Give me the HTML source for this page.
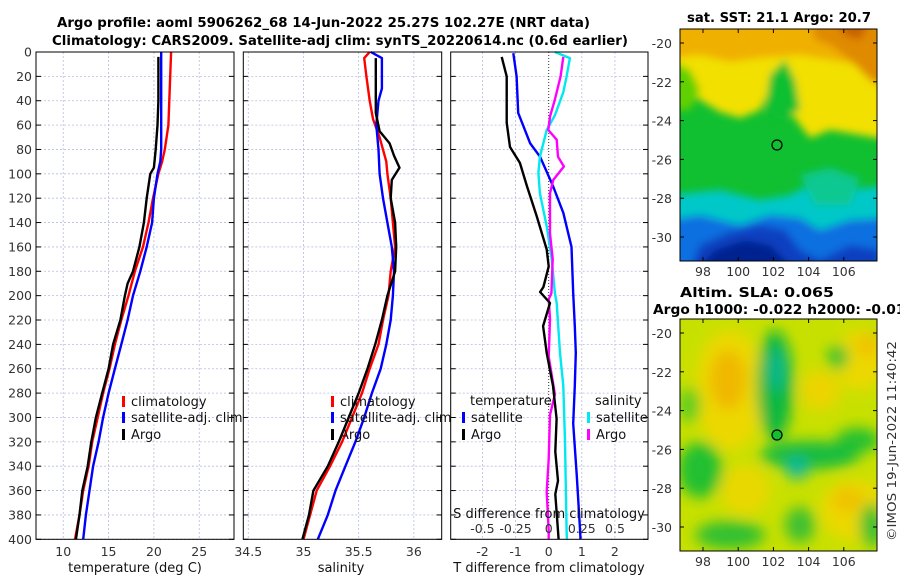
<!DOCTYPE html>
<html><head><meta charset="utf-8">
<style>
html,body{margin:0;padding:0;background:#fff;}
svg{display:block;font-family:"DejaVu Sans","Liberation Sans",sans-serif;}
.tk{font-size:12.5px;fill:#333;}
.tt{font-size:13px;font-weight:bold;fill:#000;}
.lg{font-size:13px;fill:#111;}
</style></head>
<body>
<svg id="fig" width="900" height="580" viewBox="0 0 900 580" xmlns="http://www.w3.org/2000/svg">
<defs>
<filter id="blur3" x="-5%" y="-5%" width="110%" height="110%"><feGaussianBlur stdDeviation="4"/></filter>
<filter id="blur6" x="-5%" y="-5%" width="110%" height="110%"><feGaussianBlur stdDeviation="7"/></filter>
<clipPath id="clipSST"><rect x="680" y="29" width="197" height="232"/></clipPath>
<clipPath id="clipSLA"><rect x="680" y="319" width="197" height="232"/></clipPath>
</defs>
<text class="tt" x="57" y="27" textLength="533" lengthAdjust="spacingAndGlyphs">Argo profile: aoml 5906262_68 14-Jun-2022 25.27S 102.27E (NRT data)</text>
<text class="tt" x="52" y="45" textLength="576" lengthAdjust="spacingAndGlyphs">Climatology: CARS2009. Satellite-adj clim: synTS_20220614.nc (0.6d earlier)</text>

<!-- SST map -->
<g clip-path="url(#clipSST)">
<rect x="680" y="29" width="197" height="232" fill="#10c030"/>
<g filter="url(#blur3)">
<path d="M670 20 L890 20 L890 140 L860 135 L830 130 L810 138 L790 112 L780 100 L775 70 L770 90 L760 110 L740 118 L720 112 L700 100 L690 90 L670 80 Z" fill="#f2e000"/>
<path d="M670 20 L890 20 L890 55 L860 65 L830 60 L800 55 L760 58 L730 62 L700 55 L670 58 Z" fill="#f0b000"/>
<path d="M810 20 L890 20 L890 90 L870 80 L850 60 L830 45 L815 40 Z" fill="#e08a00"/>
<path d="M835 20 L870 20 L860 40 L845 35 Z" fill="#c86000"/>
<path d="M670 60 L690 70 L700 90 L690 110 L670 110 Z" fill="#60d000"/>
<path d="M770 75 L785 60 L795 80 L800 110 L780 120 L765 110 Z" fill="#10c030"/>
<path d="M670 195 L720 190 L760 200 L790 195 L810 185 L850 190 L890 185 L890 270 L670 270 Z" fill="#00c8c8"/>
<path d="M670 220 L700 215 L740 225 L770 215 L800 218 L820 230 L850 220 L890 218 L890 270 L670 270 Z" fill="#0a70e0"/>
<path d="M690 270 L700 245 L730 232 L760 225 L785 230 L800 250 L820 260 L850 245 L880 250 L880 270 Z" fill="#0a40c0"/>
<path d="M695 270 L715 250 L745 240 L770 245 L790 265 L790 270 Z" fill="#062090"/>
<path d="M800 175 L830 168 L860 178 L850 205 L815 205 Z" fill="#10c890"/>
</g>
</g>
<rect x="680" y="29" width="197" height="232" fill="none" stroke="#000" stroke-width="1"/>
<circle cx="777" cy="145" r="5" fill="none" stroke="#000" stroke-width="1.2"/>
<text class="tt" x="687" y="22" textLength="184" lengthAdjust="spacingAndGlyphs">sat. SST: 21.1 Argo: 20.7</text>

<!-- SLA map -->
<g clip-path="url(#clipSLA)">
<rect x="680" y="319" width="197" height="232" fill="#c8e000"/>
<g filter="url(#blur6)">
<ellipse cx="730" cy="390" rx="35" ry="60" fill="#ecd800"/>
<ellipse cx="728" cy="380" rx="18" ry="30" fill="#f0b800"/>
<ellipse cx="855" cy="510" rx="35" ry="30" fill="#ecd800"/>
<ellipse cx="848" cy="500" rx="15" ry="12" fill="#f0c000"/>
<ellipse cx="860" cy="360" rx="25" ry="30" fill="#ecd800"/>
<ellipse cx="868" cy="345" rx="10" ry="12" fill="#f0c000"/>
<ellipse cx="745" cy="490" rx="25" ry="25" fill="#e8d800"/>
<ellipse cx="820" cy="390" rx="20" ry="20" fill="#ecd400"/>
<ellipse cx="700" cy="470" rx="22" ry="28" fill="#20c030"/>
<ellipse cx="690" cy="405" rx="10" ry="18" fill="#50cc20"/>
<ellipse cx="775" cy="385" rx="18" ry="55" fill="#10b840"/>
<ellipse cx="777" cy="370" rx="8" ry="22" fill="#10b890"/>
<ellipse cx="810" cy="455" rx="50" ry="14" fill="#18bc40"/>
<ellipse cx="797" cy="468" rx="11" ry="11" fill="#10b8a0"/>
<ellipse cx="858" cy="440" rx="22" ry="12" fill="#20c030"/>
<ellipse cx="838" cy="357" rx="10" ry="12" fill="#20c030"/>
<ellipse cx="730" cy="535" rx="35" ry="14" fill="#30c030"/>
<ellipse cx="872" cy="525" rx="12" ry="22" fill="#30c030"/>
<ellipse cx="800" cy="525" rx="15" ry="18" fill="#40c030"/>
</g>
</g>
<rect x="680" y="319" width="197" height="232" fill="none" stroke="#000" stroke-width="1"/>
<circle cx="777" cy="435" r="5" fill="#10c030" stroke="#000" stroke-width="1.2"/>
<text class="tt" x="680" y="297" textLength="154" lengthAdjust="spacingAndGlyphs">Altim. SLA: 0.065</text>
<text class="tt" x="653" y="314" textLength="262" lengthAdjust="spacingAndGlyphs">Argo h1000: -0.022 h2000: -0.018</text>
<text class="tk" transform="translate(896,541) rotate(-90)" textLength="200" lengthAdjust="spacingAndGlyphs">©IMOS 19-Jun-2022 11:40:42</text>

<g id="plots"></g>
</svg>
<script>
// ---- data: temperature profiles (deg C) ----
const tClimDepth = [0,20,40,60,80,90,100,120,140,160,180,200,220,240,260,280,300,320,340,360,380,400];
const tClimVal   = [21.9,21.8,21.7,21.6,21.2,20.9,20.5,19.9,19.4,18.8,17.9,17.2,16.4,15.7,15.1,14.4,13.8,13.2,12.8,12.2,11.8,11.3];
const tSatDepth  = [0,20,40,60,80,90,100,120,140,160,180,200,220,240,260,280,300,320,340,360,380,400];
const tSatVal    = [20.8,20.8,20.8,20.8,20.8,20.7,20.4,20.0,19.8,19.2,18.5,17.7,17.1,16.4,15.7,15.0,14.4,13.9,13.3,12.9,12.5,12.2];
const tArgoDepth = [4,40,60,70,80,95,100,120,140,160,180,190,200,220,240,260,280,300,320,340,360,380,400];
const tArgoVal   = [20.5,20.5,20.4,20.3,20.2,20.0,19.6,19.2,18.9,18.4,17.7,17.1,16.8,16.3,15.5,15.0,14.3,13.6,13.1,12.7,12.1,11.8,11.4];
// ---- salinity profiles ----
const sClimDepth = [0,5,20,40,55,70,90,100,120,140,160,180,200,220,240,260,280,300,320,340,360,380,400];
const sClimVal   = [35.60,35.55,35.57,35.60,35.63,35.69,35.75,35.76,35.79,35.81,35.83,35.79,35.77,35.72,35.68,35.60,35.53,35.44,35.35,35.24,35.12,35.06,35.00];
const sSatDepth  = [0,5,30,40,60,80,100,120,140,160,180,200,220,240,260,280,300,320,340,360,380,400];
const sSatVal    = [35.61,35.71,35.71,35.68,35.66,35.68,35.69,35.72,35.76,35.80,35.82,35.81,35.79,35.75,35.70,35.62,35.55,35.47,35.38,35.29,35.22,35.13];
const sArgoDepth = [5,50,65,75,85,95,105,120,140,160,180,200,220,240,260,280,300,320,340,360,380,400];
const sArgoVal   = [35.655,35.655,35.69,35.78,35.82,35.87,35.80,35.79,35.83,35.84,35.83,35.76,35.71,35.65,35.58,35.50,35.41,35.32,35.22,35.09,35.05,34.99];
// ---- differences from climatology ----
const dTArgoDepth = [4,20,58,78,91,110,135,162,176,193,197,206,225,247,274,301,328,352,363,393,400];
const dTArgoVal   = [-1.42,-1.27,-1.27,-1.17,-0.87,-0.66,-0.36,-0.06,0.0,-0.16,-0.26,0.04,-0.17,-0.06,0.13,0.24,0.2,0.28,0.2,0.28,0.3];
const dTSatDepth  = [1,20,50,75,86,110,132,160,198,225,247,274,305,348,393,400];
const dTSatVal    = [-1.07,-0.97,-0.92,-0.56,-0.26,0.13,0.44,0.69,0.74,0.79,0.82,0.79,0.74,0.85,0.95,0.96];
const dSSatDepth  = [0,5,20,33,52,64,86,99,116,143,170,198,206,247,274,320,393,400];
const dSSatVal    = [0.047,0.16,0.135,0.11,0.047,-0.015,-0.066,-0.078,-0.066,-0.015,0.023,0.047,0.06,0.085,0.11,0.123,0.135,0.137];
const dSArgoDepth = [4,20,39,53,64,72,86,94,105,116,149,170,198,203,219,250,281,298,334,361,393,400];
const dSArgoVal   = [0.11,0.09,0.047,0.01,-0.003,0.06,0.07,0.115,0.035,0.01,0.01,0.03,0.02,0.0,0.01,0.0,0.047,0.01,0.0,-0.015,0.0,0.0];
// ---- tick labels ----
const depthTicks = [0,20,40,60,80,100,120,140,160,180,200,220,240,260,280,300,320,340,360,380,400];
const tempTicks = [10,15,20,25];
const salTicks = [34.5,35,35.5,36];
const dTTicks = [-2,-1,0,1,2];
const dSTicks = [-0.5,-0.25,0,0.25,0.5];
const latTicks = [-20,-22,-24,-26,-28,-30];
const lonTicks = [98,100,102,104,106];

// axis functions
const Y0=52, Y1=539.3;
const yD = d => Y0 + d*(Y1-Y0)/400;
const xT = t => 36 + (t-7)*9.07;
const xS = s => 243.3 + (s-34.455)*110.4;
const xDT = v => 548.7 + v*33.1;
const xDS = v => 548.7 + v*132.6;
const yLatA = l => 43 + (-20-l)*19.4;
const yLatB = l => 333 + (-20-l)*19.4;
const xLon = l => 703 + (l-98)*17.6;

const NS='http://www.w3.org/2000/svg';
const root=document.getElementById('plots');
function mk(tag, attrs, parent){
  const e=document.createElementNS(NS,tag);
  for(const k in attrs) e.setAttribute(k,attrs[k]);
  (parent||root).appendChild(e); return e;
}
function txt(s, x, y, anchor, cls){
  const e=mk('text',{x:x,y:y,'text-anchor':anchor||'middle','class':cls||'tk'});
  e.textContent=s; return e;
}

const panels=[{x0:36,x1:234,name:'temperature'},{x0:243.3,x1:441.7,name:'salinity'},{x0:450.7,x1:648,name:'difference'}];
panels.forEach(p=>{
  const g=mk('g',{});
  
  
  depthTicks.forEach(d=>{
    const l=mk('line',{x1:p.x0,x2:p.x1,y1:yD(d),y2:yD(d),stroke:'#b8bce0','stroke-width':0.8,'stroke-dasharray':'2,2'},g);
    
    
    mk('line',{x1:p.x0,x2:p.x0+5,y1:yD(d),y2:yD(d),stroke:'#000','stroke-width':1},g);
    mk('line',{x1:p.x1-5,x2:p.x1,y1:yD(d),y2:yD(d),stroke:'#000','stroke-width':1},g);
  });
  p.g=g;
});
function vgrid(g,x,dotted){
  const l=mk('line',{x1:x,x2:x,y1:Y0,y2:Y1,stroke:dotted?'#333':'#b8bce0','stroke-width':dotted?1:0.8,'stroke-dasharray':dotted?'1,2':'2,2'},g);
  
  
}
tempTicks.forEach(t=>{vgrid(panels[0].g,xT(t)); const e=txt(String(t),xT(t),556);
   });
salTicks.forEach(s=>{vgrid(panels[1].g,xS(s)); const e=txt(String(s),xS(s),556);
   });
dTTicks.forEach(v=>{vgrid(panels[2].g,xDT(v),v===0); const e=txt(String(v),xDT(v),556);
   });
depthTicks.forEach(d=>{const e=txt(String(d),32,yD(d)+4.5,'end');
   });

function series(g, depths, vals, fx, color, name){
  const pts=depths.map((d,i)=>fx(vals[i]).toFixed(1)+','+yD(d).toFixed(1)).join(' ');
  const pl=mk('polyline',{points:pts,fill:'none',stroke:color,'stroke-width':2.4,'stroke-linejoin':'round'},g);
  
  
}
series(panels[0].g,tClimDepth,tClimVal,xT,'#ff0000','temp-climatology-line');
series(panels[0].g,tSatDepth,tSatVal,xT,'#0000ff','temp-satellite-line');
series(panels[0].g,tArgoDepth,tArgoVal,xT,'#000000','temp-argo-line');
series(panels[1].g,sClimDepth,sClimVal,xS,'#ff0000','sal-climatology-line');
series(panels[1].g,sSatDepth,sSatVal,xS,'#0000ff','sal-satellite-line');
series(panels[1].g,sArgoDepth,sArgoVal,xS,'#000000','sal-argo-line');
series(panels[2].g,dTSatDepth,dTSatVal,xDT,'#0000ff','t-diff-satellite-line');
series(panels[2].g,dSSatDepth,dSSatVal,xDS,'#00e8f0','s-diff-satellite-line');
series(panels[2].g,dSArgoDepth,dSArgoVal,xDS,'#ff00ff','s-diff-argo-line');
series(panels[2].g,dTArgoDepth,dTArgoVal,xDT,'#000000','t-diff-argo-line');

panels.forEach(p=>{
  const r=mk('rect',{x:p.x0,y:Y0,width:p.x1-p.x0,height:Y1-Y0,fill:'none',stroke:'#000','stroke-width':1},p.g);
  
  
});

// S diff secondary axis labels
dSTicks.forEach(v=>{const e=txt(String(v),xDS(v),533);
   });
let e;
e=txt('S difference from climatology',549,518,'middle','lg');
 
e=txt('temperature (deg C)',135,572,'middle','lg');
 
e=txt('salinity',341,572,'middle','lg');
 
e=txt('T difference from climatology',549,572,'middle','lg');
 

// legends
function legend(x, y, color, label){
  const g=mk('g',{});
  
  
  mk('rect',{x:x,y:y-10,width:3,height:11,fill:color},g);
  const t=mk('text',{x:x+9,y:y,'class':'lg'},g); t.textContent=label;
}
legend(122,406,'#ff0000','climatology');
legend(122,422,'#0000ff','satellite-adj. clim');
legend(122,439,'#000000','Argo');
legend(331,406,'#ff0000','climatology');
legend(331,422,'#0000ff','satellite-adj. clim');
legend(331,439,'#000000','Argo');
e=txt('temperature',470,405,'start','lg');
 
legend(462,422,'#0000ff','satellite');
legend(462,439,'#000000','Argo');
e=txt('salinity',595,405,'start','lg');
 
legend(587,422,'#00e8f0','satellite');
legend(587,439,'#ff00ff','Argo');

// map axes
function mapAxes(yLat, yTop, yBot, tag){
  latTicks.forEach(l=>{
    const t=txt(String(l),672,yLat(l)+5,'end');
     
    mk('line',{x1:680,x2:684,y1:yLat(l),y2:yLat(l),stroke:'#000'});
    mk('line',{x1:873,x2:877,y1:yLat(l),y2:yLat(l),stroke:'#000'});
  });
  lonTicks.forEach(l=>{
    const t=txt(String(l),xLon(l),yBot+15,'middle');
     
    mk('line',{x1:xLon(l),x2:xLon(l),y1:yBot-4,y2:yBot,stroke:'#000'});
    mk('line',{x1:xLon(l),x2:xLon(l),y1:yTop,y2:yTop+4,stroke:'#000'});
  });
}
mapAxes(yLatA,29,261,'sst');
mapAxes(yLatB,319,551,'sla');
</script>
</body></html>
